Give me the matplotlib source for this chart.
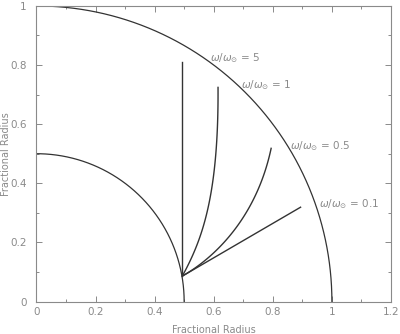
import numpy as np
import matplotlib
matplotlib.use("Agg")
import matplotlib.pyplot as plt
from matplotlib.ticker import MultipleLocator

# streamlines from the inner sphere surface
W5_X = [0.494, 0.494]
W5_Y = [0.086, 0.811]
W1_X = [0.494, 0.531, 0.565, 0.593, 0.608, 0.615]
W1_Y = [0.086, 0.163, 0.253, 0.377, 0.524, 0.725]
W05_X = [0.494, 0.542, 0.599, 0.678, 0.745, 0.794]
W05_Y = [0.086, 0.118, 0.163, 0.253, 0.366, 0.518]
W01_X = [0.494, 0.894]
W01_Y = [0.086, 0.319]

LABELS = ["5", "1", "0.5", "0.1"]
LABEL_X = [0.587, 0.691, 0.858, 0.956]
LABEL_Y = [0.822, 0.733, 0.527, 0.330]

RADII = [1.0, 0.5]

GRAY = "#8a8a8a"
LINE = "#333333"

plt.rcParams["font.family"] = "DejaVu Sans"

fig = plt.figure(figsize=(4.0, 3.34), dpi=100)
ax = fig.add_axes([0.091, 0.0973, 0.8865, 0.885])

theta = np.linspace(0, np.pi / 2, 300)
for r in RADII:
    ax.plot(r * np.cos(theta), r * np.sin(theta), color=LINE, lw=0.9)

for xs, ys in [(W5_X, W5_Y), (W1_X, W1_Y), (W05_X, W05_Y), (W01_X, W01_Y)]:
    if len(xs) > 2:
        t = np.linspace(0, 1, len(xs))
        tt = np.linspace(0, 1, 100)
        px = np.polyval(np.polyfit(t, xs, 3), tt)
        py = np.polyval(np.polyfit(t, ys, 3), tt)
        ax.plot(px, py, color=LINE, lw=1.0)
    else:
        ax.plot(xs, ys, color=LINE, lw=1.0)

for lab, x, y in zip(LABELS, LABEL_X, LABEL_Y):
    ax.text(x, y, r"$\omega/\omega_{\odot}$ = " + lab, color=GRAY,
            fontsize=7.5, ha="left", va="center")

ax.set_xlim(0, 1.2)
ax.set_ylim(0, 1.0)
ax.xaxis.set_major_locator(MultipleLocator(0.2))
ax.xaxis.set_minor_locator(MultipleLocator(0.1))
ax.yaxis.set_major_locator(MultipleLocator(0.2))
ax.yaxis.set_minor_locator(MultipleLocator(0.1))
fmt = lambda v, p: f"{v:g}"
ax.xaxis.set_major_formatter(fmt)
ax.yaxis.set_major_formatter(fmt)
ax.tick_params(which="both", direction="in", top=True, right=True,
               colors=GRAY, labelsize=7.5, width=0.7)
ax.tick_params(which="major", length=4, pad=4)
ax.tick_params(axis="y", which="major", pad=7)
ax.tick_params(which="minor", length=2)
for s in ax.spines.values():
    s.set_color(GRAY)
    s.set_linewidth(0.8)

ax.set_xlabel("Fractional Radius", color=GRAY, fontsize=7, labelpad=6)
ax.set_ylabel("Fractional Radius", color=GRAY, fontsize=7, va="center")
ax.yaxis.set_label_coords(-0.086, 0.5)

fig.savefig("out.png", dpi=100)
